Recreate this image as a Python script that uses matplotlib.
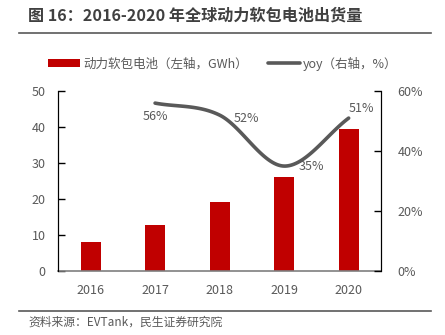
import numpy as np
import matplotlib.pyplot as plt
from matplotlib.ticker import FuncFormatter

plt.rcParams['font.family'] = ['Noto Sans CJK SC', 'DejaVu Sans']

years = ['2016', '2017', '2018', '2019', '2020']
shipments = [8.1, 12.7, 19.3, 26.1, 39.5]   # GWh, left axis
yoy_years = [1, 2, 3, 4]                    # index into years
yoy = [56, 52, 35, 51]                      # %, right axis

c_bar = '#c00000'
c_line = '#595959'
c_text = '#595959'


def smooth(x, y, n=40):
    # Catmull-Rom style smoothing, similar to Excel's smoothed line
    x, y = np.asarray(x, float), np.asarray(y, float)
    px = np.concatenate([[2 * x[0] - x[1]], x, [2 * x[-1] - x[-2]]])
    py = np.concatenate([[2 * y[0] - y[1]], y, [2 * y[-1] - y[-2]]])
    xs, ys = [], []
    for i in range(1, len(px) - 2):
        t = np.linspace(0, 1, n)
        for p, out in ((px, xs), (py, ys)):
            p0, p1, p2, p3 = p[i - 1], p[i], p[i + 1], p[i + 2]
            out.extend(0.5 * ((2 * p1) + (-p0 + p2) * t + (2 * p0 - 5 * p1 + 4 * p2 - p3) * t ** 2
                              + (-p0 + 3 * p1 - 3 * p2 + p3) * t ** 3))
    return np.array(xs), np.array(ys)


fig = plt.figure(figsize=(4.45, 3.35), dpi=100)
ax = fig.add_axes([0.131, 0.191, 0.725, 0.537])
ax2 = ax.twinx()

x = np.arange(len(years))
ax.bar(x, shipments, 0.31, color=c_bar, label='动力软包电池（左轴，GWh）', zorder=2)
ax.set_xlim(-0.5, len(years) - 0.5)
ax.set_ylim(0, 50)
ax.set_yticks(range(0, 51, 10))
ax.set_xticks(x)
ax.set_xticklabels(years)

sx, sy = smooth(yoy_years, yoy)
ax2.plot(sx, sy, color=c_line, lw=2.6, solid_capstyle='round', label='yoy（右轴，%）', zorder=3)
ax2.set_ylim(0, 60)
ax2.set_yticks(range(0, 61, 20))
ax2.yaxis.set_major_formatter(FuncFormatter(lambda v, p: '{0:.0f}%'.format(v)))

offsets = [(0.0, -4.3), (0.42, -1.0), (0.43, -0.3), (0.19, 3.3)]
for xi, v, (dx, dy) in zip(yoy_years, yoy, offsets):
    ax2.text(xi + dx, v + dy, '{0}%'.format(v), ha='center', va='center', fontsize=9, color=c_text)

for a in (ax, ax2):
    a.spines['top'].set_visible(False)
    a.tick_params(axis='y', direction='in', length=5, labelsize=9, labelcolor=c_text, width=1)
    a.tick_params(axis='x', length=0, labelsize=9, labelcolor=c_text, pad=9)
ax.spines['bottom'].set_color('#7f7f7f')
ax.spines['bottom'].set_linewidth(1.2)
ax2.spines['bottom'].set_visible(False)
ax.tick_params(axis='y', pad=9)
ax2.tick_params(axis='y', pad=12)

h1, l1 = ax.get_legend_handles_labels()
h2, l2 = ax2.get_legend_handles_labels()
fig.legend(h1 + h2, l1 + l2, loc='center', bbox_to_anchor=(0.5, 0.81), ncol=2, frameon=False,
           fontsize=9, labelcolor=c_text, handlelength=2.6, handleheight=0.6, columnspacing=1.6,
           handletextpad=0.2)

fig.text(0.063, 0.953, '图 16：2016-2020 年全球动力软包电池出货量', fontsize=11.6, fontweight='bold',
         color='#404040', ha='left', va='center')
fig.add_artist(plt.Line2D([0.043, 0.969], [0.901, 0.901], color='#595959', lw=1.2))
fig.add_artist(plt.Line2D([0.043, 0.969], [0.072, 0.072], color='#595959', lw=1.2))
fig.text(0.063, 0.037, '资料来源：EVTank，民生证券研究院', fontsize=8.5, color=c_text, ha='left', va='center')

fig.savefig('out.png', dpi=100)
